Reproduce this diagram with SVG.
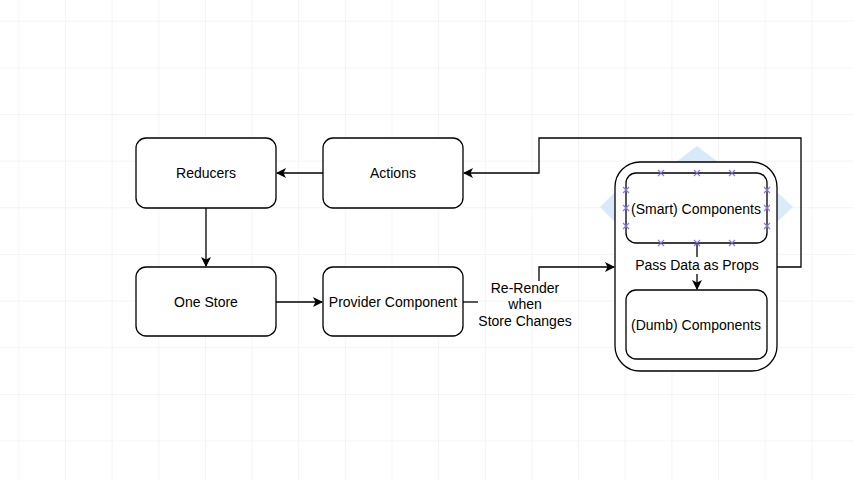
<svg xmlns="http://www.w3.org/2000/svg" width="854" height="480" viewBox="0 0 854 480">
<defs>
<pattern id="grid" x="18.3" y="20.7" width="46.65" height="46.65" patternUnits="userSpaceOnUse">
<path d="M0 0V46.65M0 0H46.65" fill="none" stroke="#e9e9e9" stroke-width="1"/>
</pattern>
<marker id="arr" viewBox="0 0 10 10" refX="9" refY="5" markerWidth="10" markerHeight="10" markerUnits="userSpaceOnUse" orient="auto">
<path d="M0 0L10 5L0 10L2.5 5Z" fill="#000"/>
</marker>
<style>
.box{fill:#fff;stroke:#000;stroke-width:1.3}
.t{font-family:"Liberation Sans",Arial,sans-serif;font-size:14px;fill:#000;text-anchor:middle}
.c{fill:none;stroke:#000;stroke-width:1.3}
.x{stroke:#8a7be8;stroke-width:1.2}
</style>
</defs>
<rect width="854" height="480" fill="#fff"/>
<rect width="854" height="480" fill="url(#grid)"/>
<g id="highlight" fill="#cfe6f8" opacity="0.8">
<polygon points="697,146 718,162 676,162"/>
<polygon points="600,207 615,192 615,222"/>
<polygon points="793,207 777,192 777,222"/>
</g>
<g id="reducers"><rect class="box" x="136" y="138" width="140" height="70" rx="10"/><text class="t" x="206" y="178">Reducers</text></g>
<g id="actions"><rect class="box" x="323" y="138" width="140" height="70" rx="10"/><text class="t" x="393" y="178">Actions</text></g>
<g id="onestore"><rect class="box" x="136" y="267" width="140" height="69" rx="10"/><text class="t" x="206" y="307">One Store</text></g>
<g id="provider"><rect class="box" x="323" y="267" width="140" height="69" rx="10"/><text class="t" x="393" y="307">Provider Component</text></g>
<g id="container"><rect class="box" x="615" y="162" width="162" height="209" rx="25"/></g>
<g id="smart"><rect class="box" x="626" y="173" width="141" height="70" rx="10"/><text class="t" x="696" y="214">(Smart) Components</text></g>
<g id="dumb"><rect class="box" x="626" y="290" width="141" height="69" rx="10"/><text class="t" x="696" y="330">(Dumb) Components</text></g>
<g id="connectors">
<path class="c" d="M323 173H277" marker-end="url(#arr)"/>
<path class="c" d="M206 208V266" marker-end="url(#arr)"/>
<path class="c" d="M276 302H322" marker-end="url(#arr)"/>
<path class="c" d="M463 302H478"/>
<path class="c" d="M539 281V267H614" marker-end="url(#arr)"/>
<path class="c" d="M777 267H801V138H539V173H464" marker-end="url(#arr)"/>
<path class="c" d="M697 243V289" marker-end="url(#arr)"/>
<rect x="630" y="257" width="134" height="17" fill="#fff"/>
<text class="t" x="697" y="270">Pass Data as Props</text>
<text class="t" x="525" y="293">Re-Render</text>
<text class="t" x="525" y="309">when</text>
<text class="t" x="525" y="326">Store Changes</text>
</g>
<g id="handles" class="x">
<path d="M658 170l6 6M664 170l-6 6M694 170l6 6M700 170l-6 6M729 170l6 6M735 170l-6 6"/>
<path d="M658 240l6 6M664 240l-6 6M694 240l6 6M700 240l-6 6M729 240l6 6M735 240l-6 6"/>
<path d="M623 187l6 6M629 187l-6 6M623 205l6 6M629 205l-6 6M623 223l6 6M629 223l-6 6"/>
<path d="M764 187l6 6M770 187l-6 6M764 205l6 6M770 205l-6 6M764 223l6 6M770 223l-6 6"/>
</g>
</svg>
